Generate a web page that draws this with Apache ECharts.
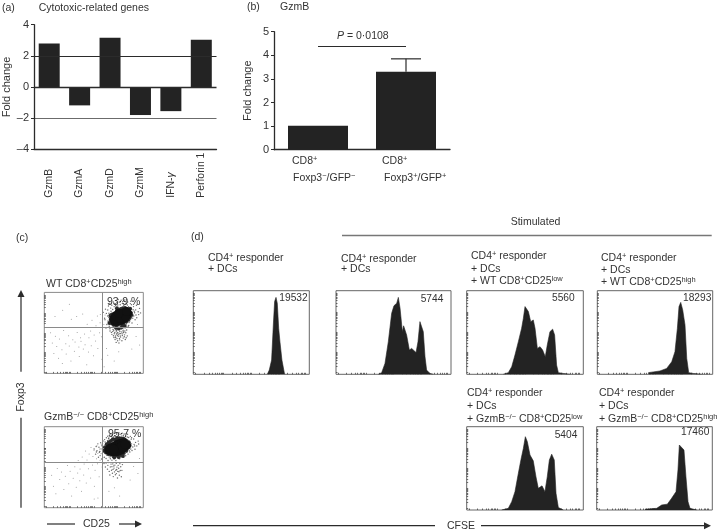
<!DOCTYPE html>
<html><head><meta charset="utf-8">
<style>html,body{margin:0;padding:0;background:#fff}#c{width:720px;height:532px;filter:blur(0.35px)}</style>
<script src="https://cdn.jsdelivr.net/npm/echarts@6/dist/echarts.min.js"></script></head>
<body><div id="c"></div>
<script>
const geneNames = ['GzmB','GzmA','GzmD','GzmM','IFN-{i|γ}','Perforin 1'];
const geneValues = [2.8,-1.18,3.16,-1.8,-1.55,3.03];
const foldTicks = {'4':'4','2':'2','0':'0','-2':'–2','-4':'–4'};
const groupMeans = [1.02,3.3];
const groupErrorTop = [null,3.85];
const pBarLevel = 4.4;

const wtSparse = [[6.3,50.2],[8.1,37.4],[9.7,24.6],[11.2,45.8],[12.6,33.1],[14.4,18.7],[15.3,42.6],[17.8,29.2],[18.2,12.3],[19.5,52.9],[21.7,36.5],[22.1,23.8],[24.6,46.4],[25.2,33.7],[26.9,15.2],[27.3,66.8],[28.8,41.6],[30.4,27.3],[31.1,38.9],[32.7,70.4],[33.2,50.5],[34.9,32.6],[35.3,20.8],[36.6,44.1],[37.1,39.7],[38.8,73.3],[39.4,30.2],[40.7,48.6],[41.2,35.4],[42.9,10.7],[43.3,60.8],[44.6,26.5],[45.1,43.9],[46.8,52.3],[47.4,34.2],[48.2,65.6],[49.7,21.9],[50.3,47.4],[51.8,40.1],[52.2,58.7],[53.6,70.9],[54.1,30.6],[55.9,50.2],[56.3,62.5],[57.7,45.3],[58.2,17.6],[60.4,8.2],[62.8,30.7],[64.1,22.4],[70.6,15.3],[75.2,26.8],[88.4,30.1],[92.7,45.6],[96.3,35.2],[94.1,60.4],[10.8,70.3],[18.6,78.1],[25.3,85.4],[58.9,66.7],[60.2,60.3],[56.6,72.8],[61.4,72.1]];
const wtHalo = [[61.3,66.2],[62.7,74.1],[63.2,60.4],[63.9,70.8],[64.4,64.7],[64.1,78.3],[65.6,58.2],[65.2,68.9],[66.8,73.4],[66.3,55.1],[67.1,80.6],[67.7,62.3],[68.2,84.2],[68.9,58.7],[69.4,54.3],[69.1,78.8],[70.6,82.4],[70.2,58.6],[71.8,86.1],[71.3,55.7],[72.6,52.4],[72.1,83.9],[73.7,58.2],[73.3,87.3],[74.9,54.6],[74.2,84.5],[75.4,58.9],[75.8,88.2],[76.1,56.3],[76.7,84.8],[77.3,60.1],[77.6,90.4],[78.2,55.8],[78.9,86.3],[79.4,58.7],[79.1,88.6],[80.7,60.3],[80.3,84.1],[81.6,56.2],[81.2,90.7],[82.8,60.9],[82.4,86.6],[83.3,62.2],[83.9,84.4],[84.7,58.3],[84.2,88.1],[85.6,62.8],[85.1,82.3],[86.4,64.6],[86.9,86.2],[87.2,66.7],[87.8,80.1],[88.6,62.3],[88.1,84.9],[89.3,68.2],[89.7,78.6],[90.4,70.8],[90.1,82.5],[91.7,66.3],[91.2,74.9],[92.6,72.1],[92.3,78.4],[93.4,68.7],[94.8,76.2],[95.3,72.6],[96.2,80.3],[59.6,75.4],[60.9,68.1],[61.8,79.3],[62.3,55.9],[64.8,83.2],[66.1,86.7],[69.7,88.3],[74.6,91.2],[83.1,91.6],[87.4,89.1],[93.1,84.2],[97.2,74.7],[65.3,74.2],[67.4,76.8],[69.3,73.6],[72.4,79.6],[88.9,75.3],[90.8,76.7],[86.2,71.3],[70.3,62.1],[74.2,59.6],[78.6,60.4],[82.2,57.4],[85.3,59.2],
[66.4,52.3],[67.8,50.6],[68.3,48.2],[69.2,51.7],[69.8,46.4],[70.1,53.2],[70.7,48.9],[70.4,44.3],[71.2,50.6],[71.9,46.1],[71.5,41.8],[72.3,54.2],[72.8,48.7],[72.1,44.4],[72.6,38.3],[73.2,52.6],[73.8,47.1],[73.4,42.9],[74.3,50.3],[74.7,45.8],[74.1,40.4],[75.6,53.9],[75.2,48.3],[75.9,43.2],[75.4,37.6],[76.3,51.7],[76.7,46.2],[76.2,41.4],[77.8,54.6],[77.4,49.1],[77.1,44.8],[78.3,51.2],[78.8,46.7],[78.4,40.3],[79.6,53.3],[79.2,48.8],[79.7,43.6],[80.3,50.7],[80.8,45.2],[81.4,52.4],[81.1,47.6],[81.8,41.9],[82.3,50.2],[82.7,44.1],[83.2,53.6],[83.8,46.3],[73.6,49.8],[76.4,49.4],[74.9,55.2],[79.9,51.1]];
const wtMid = [[65.8,62.3],[67.2,66.4],[68.4,61.6],[69.1,70.8],[70.3,60.2],[70.6,67.3],[71.4,73.2],[72.8,60.1],[73.2,76.4],[74.3,60.6],[75.7,78.1],[76.2,61.3],[77.3,79.6],[78.6,62.2],[79.4,80.3],[80.2,62.7],[81.6,80.6],[82.7,64.2],[83.3,79.4],[84.8,66.3],[85.2,77.6],[86.4,69.1],[87.3,74.7],[88.1,72.2],[72.6,56.3],[75.3,55.4],[78.4,57.2],[81.2,58.6],[70.2,72.9],[68.4,72.6],[66.7,71.3],[86.7,79.8],[73.4,80.4],[79.2,59.4]];
const wtCore = [[71.2,64.3],[73.4,64.2],[75.3,66.1],[77.2,65.3],[79.1,67.2],[81.3,68.3],[83.2,72.1],[84.1,74.2],[73.2,68.3],[75.1,71.2],[77.3,72.1],[79.2,74.3],[81.1,75.2],[78.2,69.1],[70.2,67.2],[72.1,71.1],[80.1,71.1],[76.2,68.2],[82.2,70.2],[75.2,74.2],[83.1,76.3]];

const koSparse = [[7.4,40.2],[9.2,26.6],[11.7,17.3],[13.1,48.4],[15.6,34.8],[17.3,44.1],[19.8,22.5],[21.2,38.7],[23.4,52.2],[24.7,29.6],[26.1,44.9],[27.6,14.3],[29.2,36.4],[30.8,50.6],[32.3,25.1],[33.7,42.8],[34.2,58.3],[35.9,33.4],[36.1,47.7],[37.6,20.2],[38.3,62.6],[39.8,40.3],[40.2,53.8],[41.7,70.1],[42.4,30.6],[43.1,58.9],[44.6,48.2],[45.3,66.4],[46.8,36.7],[47.2,74.3],[48.7,52.8],[49.1,63.2],[50.6,26.4],[50.2,70.7],[51.3,46.1],[52.8,60.5],[53.2,76.6],[53.7,54.3],[54.1,66.8],[55.4,38.2],[55.8,72.4],[56.3,58.6],[57.6,78.2],[57.2,66.7],[58.4,50.1],[58.9,70.6],[59.2,62.3],[50.4,10.7],[54.2,12.1],[58.7,6.4],[65.3,20.2],[70.8,24.6],[76.1,14.3],[86.7,34.2],[90.2,50.8],[94.6,42.3],[96.1,60.7]];
const koHalo = [[50.3,72.4],[51.8,66.1],[52.4,75.6],[53.2,70.3],[54.7,62.2],[54.1,78.8],[55.6,68.4],[55.2,74.7],[56.4,64.3],[56.9,80.2],[57.3,72.6],[57.8,60.1],[58.2,76.4],[58.6,66.9],[59.4,82.3],[59.1,70.7],[60.7,62.2],[60.2,74.8],[60.9,84.1],[61.3,67.6],[61.8,78.3],[62.4,60.7],[62.1,72.2],[62.7,86.4],[63.3,64.8],[63.8,82.6],[64.4,58.2],[64.1,88.3],[65.6,62.7],[65.2,86.1],[66.7,60.4],[66.3,90.2],[67.1,62.9],[67.8,88.6],[68.3,58.7],[68.6,90.4],[69.2,62.1],[69.9,87.3],[70.4,60.2],[70.8,91.7],[71.6,62.4],[71.1,88.8],[72.3,58.3],[72.9,92.2],[73.4,62.7],[73.1,90.6],[74.7,60.8],[74.2,88.1],[75.8,63.4],[75.3,92.6],[76.1,60.3],[76.6,90.7],[77.4,64.2],[77.9,88.4],[78.2,62.8],[78.7,92.1],[79.3,64.6],[79.8,89.2],[80.1,62.3],[80.6,90.9],[81.4,66.8],[81.9,88.3],[82.2,64.1],[82.7,91.4],[83.3,68.6],[83.8,87.2],[84.6,66.2],[84.1,90.7],[85.7,70.3],[85.2,86.6],[86.4,68.8],[86.9,88.1],[87.3,72.4],[87.8,84.6],[88.6,70.7],[88.2,86.3],[89.4,74.9],[90.7,78.2],[90.3,84.8],[91.6,72.1],[92.2,80.6],[93.4,76.3],[94.8,82.2],[95.3,78.7],[52.6,68.8],[56.1,69.4],[58.8,79.6],[61.4,81.2],[64.9,85.1],[88.1,78.8],[91.2,76.3],[84.4,81.4],
[60.3,54.6],[61.7,50.2],[62.4,55.1],[63.8,47.6],[64.2,52.3],[65.6,44.8],[65.1,55.7],[66.7,50.4],[66.2,40.3],[67.4,53.8],[67.9,46.2],[68.3,50.7],[68.8,42.6],[69.2,54.1],[69.7,38.4],[70.4,48.9],[70.9,44.2],[71.3,52.6],[71.8,40.7],[72.2,46.3],[72.7,54.8],[73.4,50.1],[73.9,36.6],[74.2,44.8],[74.6,52.3],[75.1,48.7],[75.8,40.2],[76.3,54.4],[76.7,45.9],[77.2,50.6],[77.8,38.3],[78.4,46.1],[78.9,53.2],[69.4,47.3],[72.8,42.1],[75.4,44.4],[73.1,47.2],[70.2,51.4]];
const koMid = [[60.2,70.4],[61.3,74.6],[62.4,68.2],[63.1,78.3],[64.7,66.4],[65.2,80.7],[66.6,66.2],[67.3,82.4],[68.8,65.3],[69.2,84.6],[70.4,65.1],[71.7,84.2],[72.3,64.6],[73.6,85.3],[74.2,65.4],[75.8,85.7],[76.3,65.2],[77.4,85.1],[78.1,66.3],[79.6,85.4],[80.2,67.6],[81.3,84.2],[82.7,70.4],[83.2,82.3],[84.6,74.1],[85.3,80.7],[86.1,76.6],[62.6,73.1],[63.8,71.2],[66.1,77.4],[70.7,62.2],[75.2,62.6],[79.4,63.7]];
const koCore = [[65.2,71.3],[67.1,70.2],[69.3,69.1],[71.2,70.2],[73.1,69.3],[75.2,70.1],[77.3,71.2],[79.1,73.3],[81.2,75.1],[83.1,77.2],[68.2,74.1],[70.1,75.3],[72.2,77.1],[74.1,78.2],[76.3,79.1],[78.2,79.3],[80.1,80.2],[73.2,73.1],[76.1,74.2],[66.2,73.3],[78.2,76.2],[81.3,78.1],[70.2,72.2]];

const hist19532 = [[63.8,0],[65.5,5],[67.5,17],[69,59],[70.1,87],[71.3,92],[72.4,85],[73.6,55],[74.7,39],[76.4,17],[78.7,0]];
const hist5744 = [[36.8,0],[39.7,2],[42.6,13],[45.5,39],[48.4,73],[50.4,82],[52.8,85],[54.2,92],[55.7,79],[57.7,51],[58.8,58],[60.3,60],[61.4,47],[63.8,29],[65.8,31],[67.2,30],[69.6,26],[71.3,39],[73,63],[74.5,64],[75.9,51],[77.4,21],[78.8,5],[81.7,1],[84.6,0]];
const hist5560 = [[31.4,0],[35.7,2],[38.6,9],[41.4,23],[44.3,39],[47.1,55],[48.6,67],[50,81],[51.4,83],[52.9,75],[54.9,63],[57.1,65],[58.6,55],[60.6,31],[62.9,33],[65.1,29],[67.4,21],[69.1,35],[71.4,51],[73.7,54],[75.4,47],[77.1,11],[78.6,2],[82.9,1],[88.6,0]];
const hist18293 = [[44.2,2],[54.3,4],[60.1,7],[64.5,15],[67.3,27],[69.4,55],[70.8,81],[72.3,86],[74,77],[76,59],[77.5,19],[79.2,2],[83.2,1],[90.5,0]];
const hist5404 = [[30,0],[35.7,2],[38.6,10],[41.4,22],[44.3,44],[46.6,61],[48.6,74],[50.3,88],[52,82],[54.3,66],[57.1,59],[59.4,40],[61.4,26],[62.9,24],[64.6,29],[67.1,22],[69.1,40],[70.9,60],[72.9,67],[75.1,60],[76.6,20],[78.6,3],[82.9,0]];
const hist17460 = [[41.8,1],[51.9,2],[56.2,6],[61.1,7],[64.8,14],[68.6,22],[70.3,48],[71.5,78],[73.2,80],[75.5,72],[77.2,40],[79,10],[80.7,2],[86.5,0]];

const percents = ['93·9 %','95·7 %'];
const ink = '#2b2b2b', bar = '#232323', txt = '#333', frame = '#666';
const fam = '"Liberation Sans", Arial, sans-serif';
const FS = 10.5;
const sup = {s:{fontSize:7.5,verticalAlign:'top',lineHeight:12.5,fontFamily:fam,fill:txt,color:txt},i:{fontStyle:'italic',fontSize:FS,fontFamily:fam,fill:txt,color:txt}};

const logTicks = [];
for (let d=0;d<4;d++) for (let m=1;m<10;m++) logTicks.push(2+24*(d+Math.log10(m)));
const grids=[], xAxes=[], yAxes=[], series=[];
function addGrid(l,t,w,h,g,x,y){grids.push(Object.assign({left:l,top:t,width:w,height:h},g));xAxes.push(Object.assign({gridIndex:grids.length-1},x));yAxes.push(Object.assign({gridIndex:grids.length-1},y));return grids.length-1;}
const axisText={color:txt,fontSize:11,fontFamily:fam};
const hLine=(v,w)=>({yAxis:v,lineStyle:{color:ink,width:w,type:'solid'}});

// (a)
let gA=addGrid(29,24.7,187.5,124.6,{},
 {type:'category',data:geneNames,axisLine:{onZero:false,lineStyle:{color:ink,width:1.3}},axisTick:{alignWithLabel:true,length:3,lineStyle:{color:ink}},
  axisLabel:{rotate:90,align:'left',verticalAlign:'middle',margin:48.4,interval:0,color:txt,fontSize:10.4,fontFamily:fam,rich:{i:sup.i}}},
 {type:'value',min:-4,max:4,interval:2,axisLine:{show:true,lineStyle:{color:ink,width:1.3}},axisTick:{show:true,length:3,lineStyle:{color:ink}},splitLine:{show:false},
  axisLabel:Object.assign({formatter:v=>foldTicks[v],margin:5},axisText),name:'Fold change',nameLocation:'middle',nameGap:22,nameTextStyle:axisText});
series.push({type:'bar',xAxisIndex:gA,yAxisIndex:gA,data:geneValues,barWidth:21,itemStyle:{color:bar},
 markLine:{silent:true,symbol:'none',label:{show:false},data:[hLine(2,1.1),hLine(0,1.3),hLine(-2,.7)]}});

// (b)
let gB=addGrid(274,31.7,176,118,{},
 {type:'category',data:['Foxp3−/GFP−','Foxp3+/GFP+'],axisLine:{lineStyle:{color:ink,width:1.3}},axisTick:{show:false},axisLabel:{show:false}},
 {type:'value',min:0,max:5,interval:1,axisLine:{show:true,lineStyle:{color:ink,width:1.3}},axisTick:{show:true,length:3,lineStyle:{color:ink}},splitLine:{show:false},
  axisLabel:Object.assign({margin:5},axisText),name:'Fold change',nameLocation:'middle',nameGap:21,nameTextStyle:axisText});
series.push({type:'bar',xAxisIndex:gB,yAxisIndex:gB,data:groupMeans,barWidth:60,itemStyle:{color:bar},
 markLine:{silent:true,symbol:'none',label:{show:false},lineStyle:{color:ink,width:1.2,type:'solid'},data:[[{xAxis:0,yAxis:pBarLevel},{xAxis:1,yAxis:pBarLevel}]]}});
series.push({type:'custom',xAxisIndex:gB,yAxisIndex:gB,data:groupMeans.map((m,i)=>[i,m,groupErrorTop[i]]).filter(d=>d[2]!=null),
 renderItem:(p,api)=>{const a=api.coord([api.value(0),api.value(1)]),b=api.coord([api.value(0),api.value(2)]);const st={stroke:ink,lineWidth:1.2};
  return {type:'group',children:[{type:'line',shape:{x1:a[0],y1:a[1],x2:b[0],y2:b[1]},style:st},{type:'line',shape:{x1:b[0]-15,y1:b[1],x2:b[0]+15,y2:b[1]},style:st}]};}});

// flow-plot axes
function plotAxes(){return [
 {type:'value',min:0,max:100,axisLine:{show:false},splitLine:{show:false},axisLabel:{show:false},axisTick:{show:true,inside:true,length:1.5,customValues:logTicks,lineStyle:{color:'#333',width:.7}}},
 {type:'value',min:0,max:100,axisLine:{show:false},splitLine:{show:false},axisLabel:{show:false},axisTick:{show:true,inside:true,length:1.5,customValues:logTicks,lineStyle:{color:'#333',width:.7}}}];}
function addDot(l,t,w,h,qx,qy,sp,ha,mi,co){const [x,y]=plotAxes();const g=addGrid(l,t,w,h,{show:true,borderColor:'#8a8a8a',borderWidth:1,backgroundColor:'#fff'},x,y);
 const base={type:'scatter',xAxisIndex:g,yAxisIndex:g,silent:true};
 series.push(Object.assign({},base,{data:sp,symbolSize:1,itemStyle:{color:'#777'},
   markLine:{silent:true,symbol:'none',label:{show:false},lineStyle:{color:'#8a8a8a',width:1,type:'solid'},data:[{xAxis:qx},{yAxis:qy}]}}));
 series.push(Object.assign({},base,{data:ha,symbolSize:1.4,itemStyle:{color:'#444'}}));
 series.push(Object.assign({},base,{data:mi,symbolSize:4,itemStyle:{color:'#2a2a2a',opacity:1}}));
 series.push(Object.assign({},base,{data:co,symbolSize:9,itemStyle:{color:'#111',opacity:1,borderWidth:0}}));}
addDot(44.3,292.4,99,81,58.6,56.4,wtSparse,wtHalo,wtMid,wtCore);
addDot(44.3,426.7,99,81,58.6,56,koSparse,koHalo,koMid,koCore);

// (d)
function addHist(l,t,w,h,d){const [x,y]=plotAxes();const g=addGrid(l,t,w,h,{show:true,borderColor:frame,borderWidth:1,backgroundColor:'#fff'},x,y);
 series.push({type:'line',xAxisIndex:g,yAxisIndex:g,data:d,symbol:'none',smooth:false,lineStyle:{color:bar,width:.6},areaStyle:{color:bar,opacity:1},silent:true});}
addHist(193.3,290.7,116,83.6,hist19532);
addHist(336,290.7,115,83.6,hist5744);
addHist(466.7,290.7,116.6,83.6,hist5560);
addHist(597.3,290.7,115.4,83.6,hist18293);
addHist(466.7,426.7,116.6,83.3,hist5404);
addHist(596.7,426.7,115.6,83.3,hist17460);

// text and annotation
const el=[];
function T(x,y,text,fs){el.push({type:'text',x:x,y:y,silent:true,z:50,style:{text:text,fontSize:fs||FS,fontFamily:fam,fill:txt,verticalAlign:'middle',align:'left',rich:sup}});}
function L(x1,y1,x2,y2,w,c){el.push({type:'line',silent:true,z:50,shape:{x1,y1,x2,y2},style:{stroke:c||ink,lineWidth:w||1.2}});}
function A(pts){el.push({type:'polygon',silent:true,z:50,shape:{points:pts},style:{fill:ink}});}
T(2,8,'(a)');T(38.7,8,'Cytotoxic-related genes');
T(247,7,'(b)');T(280,7,'GzmB');
T(337,36.5,'{i|P} = 0·0108');
T(292,161.5,'CD8{s|+}');T(382,161.5,'CD8{s|+}');
T(293,178.5,'Foxp3{s|−}/GFP{s|−}');T(384,178.5,'Foxp3{s|+}/GFP{s|+}');
T(16,238,'(c)');
T(46,284,'WT CD8{s|+}CD25{s|high}');
T(107,302,percents[0]);
T(44,417,'GzmB{s|−/−} CD8{s|+}CD25{s|high}');
T(108,434,percents[1]);
el.push({type:'text',x:21,y:397,rotation:Math.PI/2,silent:true,z:50,style:{text:'Foxp3',fontSize:FS,fontFamily:fam,fill:txt,verticalAlign:'middle',align:'center'}});
L(21,507.7,21,417.7);L(21,371.7,21,296);A([[21,290],[17.5,297],[24.5,297]]);
T(83,524,'CD25');L(47,524,75,524);L(119,524,136,524);A([[142,524],[135,520.5],[135,527.5]]);
T(191,237,'(d)');
T(208,258,'CD4{s|+} responder');T(208,269,'+ DCs');
T(341,259,'CD4{s|+} responder');T(341,269,'+ DCs');
T(510.7,222,'Stimulated');L(342,235.5,711.7,235.5,1.5,'#777');
T(471,256.5,'CD4{s|+} responder');T(471,269,'+ DCs');T(471,281,'+ WT CD8{s|+}CD25{s|low}');
T(601,258,'CD4{s|+} responder');T(601,270,'+ DCs');T(601,282,'+ WT CD8{s|+}CD25{s|high}');
T(467,392.7,'CD4{s|+} responder');T(467,405.7,'+ DCs');T(467,419,'+ GzmB{s|−/−} CD8{s|+}CD25{s|low}');
T(599,392.7,'CD4{s|+} responder');T(599,405.7,'+ DCs');T(599,419,'+ GzmB{s|−/−} CD8{s|+}CD25{s|high}');
T(279.3,297.7,'19532',10.2);T(420.7,299,'5744',10.2);T(552,297.7,'5560',10.2);T(683,298,'18293',10.2);T(554.7,435,'5404',10.2);T(681,432,'17460',10.2);
T(447,525.7,'CFSE');L(193,525.7,435,525.7);L(481,525.7,705,525.7);A([[711,525.7],[704,522.2],[704,529.2]]);

const chart=echarts.init(document.getElementById('c'),null,{renderer:'canvas'});
chart.setOption({animation:false,backgroundColor:'#fff',grid:grids,xAxis:xAxes,yAxis:yAxes,series:series,graphic:{elements:el}});
</script></body></html>
